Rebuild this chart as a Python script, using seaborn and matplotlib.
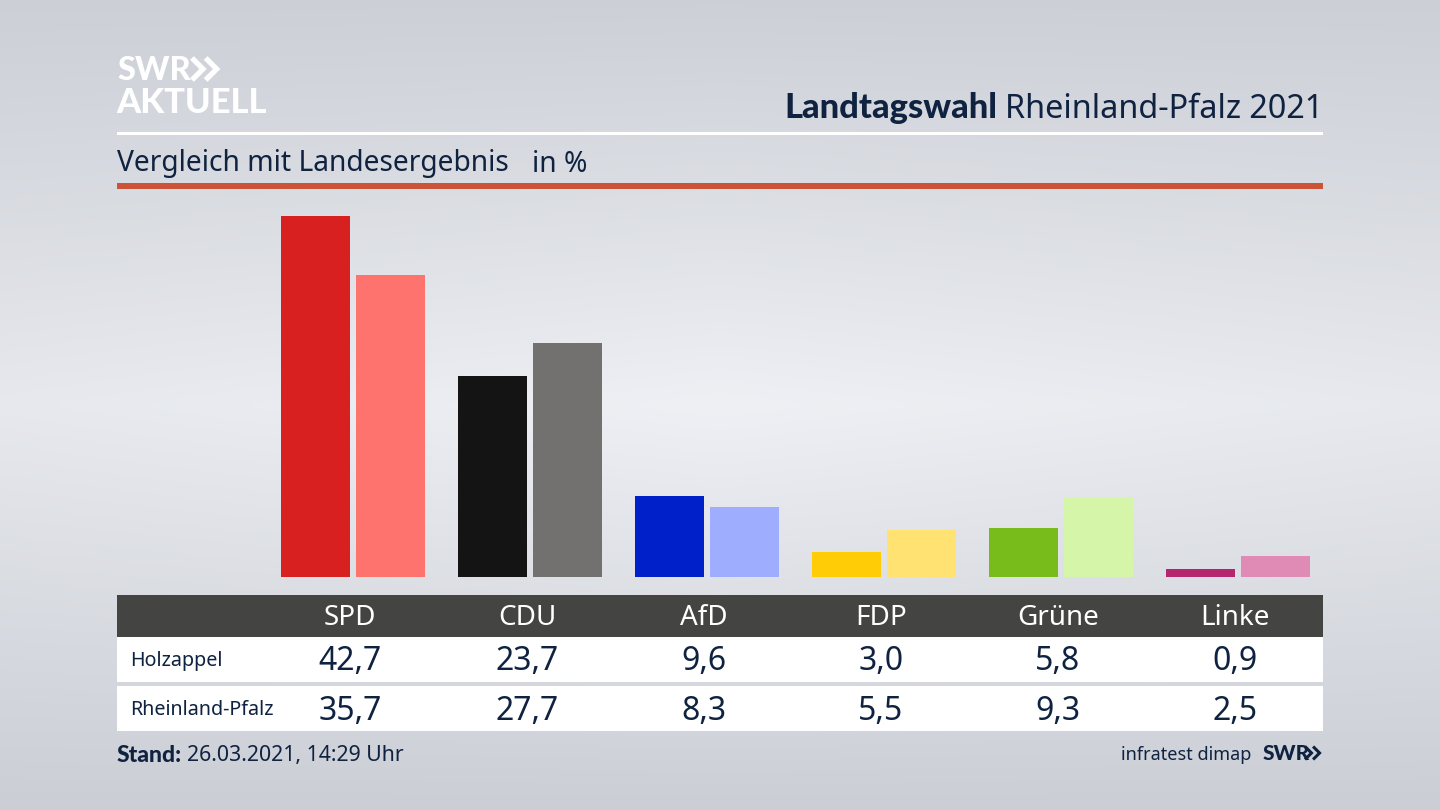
import numpy as np
import pandas as pd
import matplotlib
matplotlib.use('Agg')
import matplotlib.pyplot as plt
from matplotlib.colors import LinearSegmentedColormap
from matplotlib.patches import Rectangle
import seaborn as sns

parties = ['SPD', 'CDU', 'AfD', 'FDP', 'Grüne', 'Linke']
holzappel = [42.7, 23.7, 9.6, 3.0, 5.8, 0.9]
rlp = [35.7, 27.7, 8.3, 5.5, 9.3, 2.5]
areas = ['Holzappel', 'Rheinland-Pfalz']
colors_holzappel = ['#d7201f', '#141414', '#0021c9', '#ffcc05', '#78bc1b', '#b5266e']
colors_rlp = ['#ff736e', '#72716f', '#9fadff', '#ffe272', '#d5f6a8', '#e08ab6']

NAVY = '#0f2240'
BOLD = ['Lato', 'DejaVu Sans']
W, H = 1440, 810

sns.set_theme(style='white')
plt.rcParams['font.family'] = ['Noto Sans', 'DejaVu Sans']

fig = plt.figure(figsize=(14.4, 8.1), dpi=100)

# background: pale band in the middle, greyer to the top, bottom and sides
bg = fig.add_axes([0, 0, 1, 1])
yy, xx = np.mgrid[0:1:162j, 0:1:288j]
shade = np.interp(yy, [0, 0.25, 0.5, 0.75, 1], [0.05, 0.5, 1, 0.5, 0]) * (1 - 0.22 * np.abs(xx - 0.5) * 2)
cmap = LinearSegmentedColormap.from_list('bg', ['#cbced5', '#eef0f4'])
bg.imshow(shade, cmap=cmap, vmin=0, vmax=1, extent=[0, W, H, 0], aspect='auto', interpolation='bilinear')
bg.set_xlim(0, W)
bg.set_ylim(H, 0)
bg.axis('off')

df = pd.DataFrame({
    'Partei': parties * 2,
    'Gebiet': [areas[0]] * len(parties) + [areas[1]] * len(parties),
    'Wert': holzappel + rlp,
})

# bars, axes placed so that one percent is about 8.46 px
base_y, top_y = 577, 190
left, right = 117, 1323
first, pitch, scale = 353, 177, 8.46
ax = fig.add_axes([left / W, 1 - base_y / H, (right - left) / W, (base_y - top_y) / H])
ax.patch.set_alpha(0)
sns.barplot(data=df, x='Partei', y='Wert', hue='Gebiet', order=parties, hue_order=areas,
            width=150 / pitch, gap=0.08, legend=False, ax=ax)
for cont, cols in zip(ax.containers, [colors_holzappel, colors_rlp]):
    for bar, c in zip(cont, cols):
        bar.set_facecolor(c)
        bar.set_edgecolor('none')
ax.set_xlim((left - first) / pitch, (right - first) / pitch)
ax.set_ylim(0, (base_y - top_y) / scale)
ax.axis('off')

# header, rules and table are drawn in pixel coordinates on top
ov = fig.add_axes([0, 0, 1, 1])
ov.patch.set_alpha(0)
ov.set_xlim(0, W)
ov.set_ylim(H, 0)
ov.axis('off')


def box(x0, y0, x1, y1, color):
    ov.add_patch(Rectangle((x0, y0), x1 - x0, y1 - y0, facecolor=color, edgecolor='none'))


def chevrons(x, y, h, color, lw):
    for dx in (0, h * 0.62):
        ov.plot([x + dx, x + dx + h * 0.5, x + dx], [y - h / 2, y, y + h / 2],
                color=color, lw=lw, solid_joinstyle='miter', solid_capstyle='butt')


box(117, 132, 1323, 135, 'white')
box(117, 183, 1323, 189, '#cc5238')
box(117, 595, 1323, 637, '#444442')
box(117, 637, 1323, 682, 'white')
box(117, 686, 1323, 731, 'white')

# logo
ov.text(117, 70, 'SWR', color='white', family=BOLD, fontsize=23.5, fontweight='black', va='center', ha='left')
chevrons(192, 69, 22, 'white', 3.8)
ov.text(116, 103, 'AKTUELL', color='white', family=BOLD, fontsize=24.8, fontweight='black', va='center', ha='left')

# titles
ov.text(1323, 109, 'Rheinland-Pfalz 2021', color=NAVY, fontsize=23.3, va='center', ha='right')
ov.text(997, 108, 'Landtagswahl', color=NAVY, family=BOLD, fontsize=24.8, fontweight='black', va='center', ha='right')
ov.text(117, 163, 'Vergleich mit Landesergebnis', color=NAVY, fontsize=20.3, va='center', ha='left')
ov.text(532, 165, 'in %', color=NAVY, fontsize=20.3, va='center', ha='left')

# table
label_x = [first - 3 + i * pitch for i in range(len(parties))]
for x, p, a, b in zip(label_x, parties, holzappel, rlp):
    ov.text(x, 618, p, color='white', fontsize=20, va='center', ha='center')
    ov.text(x, 662, f'{a:.1f}'.replace('.', ','), color=NAVY, fontsize=23, va='center', ha='center')
    ov.text(x, 711, f'{b:.1f}'.replace('.', ','), color=NAVY, fontsize=23, va='center', ha='center')
ov.text(130, 661, areas[0], color=NAVY, fontsize=14.2, va='center', ha='left')
ov.text(130, 710, areas[1], color=NAVY, fontsize=14.2, va='center', ha='left')

# footer
ov.text(117, 755, 'Stand:', color=NAVY, family=BOLD, fontsize=16.5, fontweight='black', va='center', ha='left')
ov.text(187, 756, '26.03.2021, 14:29 Uhr', color=NAVY, fontsize=15.3, va='center', ha='left')
ov.text(1251, 755, 'infratest dimap', color=NAVY, fontsize=13, va='center', ha='right')
ov.text(1263, 754, 'SWR', color=NAVY, family=BOLD, fontsize=15, fontweight='black', va='center', ha='left')
chevrons(1305, 753, 13, NAVY, 2.2)

fig.savefig('out.png', dpi=100)
